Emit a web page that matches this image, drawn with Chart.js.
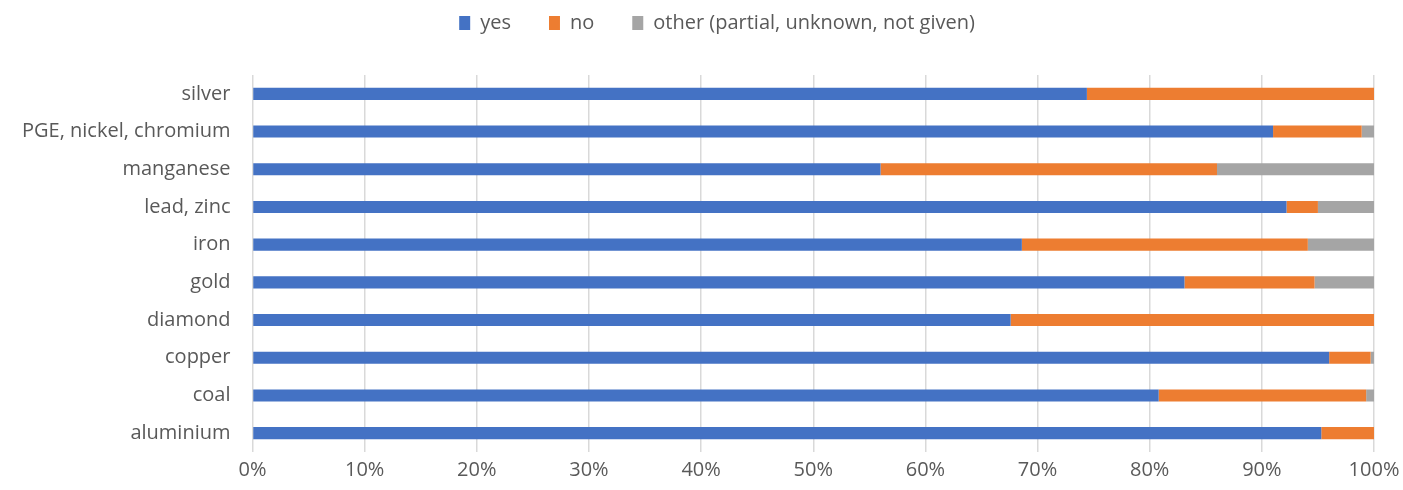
<!DOCTYPE html>
<html>
<head>
<meta charset="utf-8">
<script src="https://cdn.jsdelivr.net/npm/chart.js@4"></script>
<style>
  html, body { margin: 0; padding: 0; background: #fff; }
  #wrap { width: 1403px; height: 490px; }
</style>
</head>
<body>
<div id="wrap"><canvas id="mineralChart" width="1403" height="490"></canvas></div>
<script>
// Share of answers per commodity (percent), top to bottom
const commodities = ['silver', 'PGE, nickel, chromium', 'manganese', 'lead, zinc', 'iron',
                     'gold', 'diamond', 'copper', 'coal', 'aluminium'];
const yesValues   = [74.4, 91.0, 56.0, 92.2, 68.6, 83.1, 67.6, 96.0, 80.8, 95.3];
const noValues    = [25.6,  7.9, 30.0,  2.8, 25.5, 11.6, 32.4,  3.7, 18.5,  4.7];
const otherValues = [ 0.0,  1.1, 14.0,  5.0,  5.9,  5.3,  0.0,  0.3,  0.7,  0.0];
const seriesNames = ['yes', 'no', 'other (partial, unknown, not given)'];
const xTicks = [0, 10, 20, 30, 40, 50, 60, 70, 80, 90, 100];

const colors = ['#4472c4', '#ed7d31', '#a5a5a5'];
const fontFamily = "'Open Sans', 'Liberation Sans', sans-serif";

// extra space under the legend row, and nudge the row a bit to the right
const legendTweaks = {
    id: 'legendTweaks',
    afterInit(chart) {
        const legend = chart.legend;
        const fit = legend.fit;
        legend.fit = function() {
            fit.call(legend);
            legend.height += 32;
        };
    },
    afterLayout(chart) {
        chart.legend.left += 26;
        chart.legend.right += 26;
    }
};

const ctx = document.getElementById('mineralChart').getContext('2d');
new Chart(ctx, {
    type: 'bar',
    data: {
        labels: commodities,
        datasets: [yesValues, noValues, otherValues].map((vals, i) => ({
            label: seriesNames[i],
            data: vals,
            backgroundColor: colors[i],
            borderWidth: 0,
            barPercentage: 0.32,
            categoryPercentage: 1.0
        }))
    },
    options: {
        indexAxis: 'y',
        responsive: false,
        animation: false,
        layout: {
            padding: { left: 0, right: 21, top: -25, bottom: 2 }
        },
        plugins: {
            legend: {
                position: 'top',
                labels: {
                    boxWidth: 11,
                    boxHeight: 14,
                    padding: 38,
                    color: '#595959',
                    font: { family: fontFamily, size: 20 }
                }
            },
            tooltip: { enabled: false }
        },
        scales: {
            x: {
                stacked: true,
                min: 0,
                max: 100,
                afterBuildTicks: axis => { axis.ticks = xTicks.map(v => ({ value: v })); },
                // let the "100%" label hang a little further past the plot edge
                afterFit: axis => { axis.paddingRight = 29; },
                grid: {
                    color: '#d9d9d9',
                    lineWidth: 1.5,
                    drawTicks: false
                },
                border: { display: false },
                ticks: {
                    padding: 6,
                    color: '#595959',
                    font: { family: fontFamily, size: 20 },
                    callback: v => v + '%'
                }
            },
            y: {
                stacked: true,
                grid: { display: false, drawTicks: false },
                border: { display: false },
                ticks: {
                    padding: 22,
                    color: '#595959',
                    font: { family: fontFamily, size: 20 }
                }
            }
        }
    },
    plugins: [legendTweaks]
});
</script>
</body>
</html>
